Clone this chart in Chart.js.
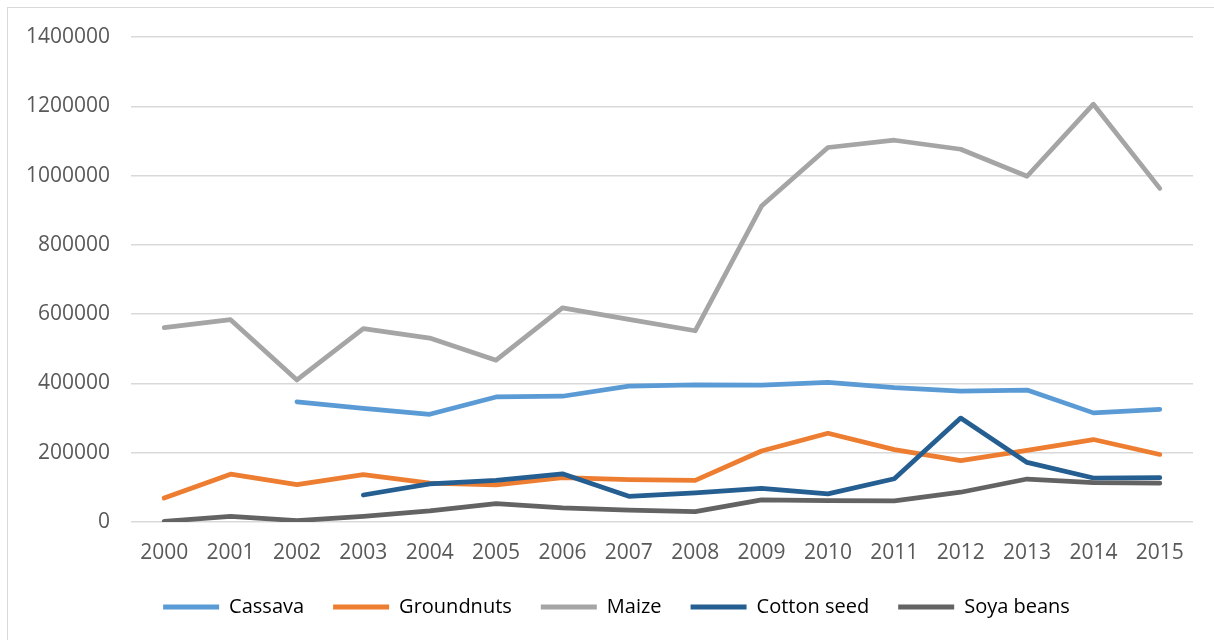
<!DOCTYPE html>
<html>
<head>
<meta charset="utf-8">
<title>Crop production 2000–2015</title>
<script src="https://cdn.jsdelivr.net/npm/chart.js@4.4.1/dist/chart.umd.min.js"></script>
<style>
  html, body { margin: 0; padding: 0; background: #ffffff; overflow: hidden; }
  #wrap { position: relative; width: 1214px; height: 640px; }
  #frame { position: absolute; left: 7px; top: 7px; width: 1230px; height: 660px;
           border-left: 1px solid #d9d9d9; border-top: 1px solid #d9d9d9; box-sizing: border-box; }
  #chart { position: absolute; left: 0; top: 0; }
</style>
</head>
<body>
<div id="wrap">
  <div id="frame"></div>
  <canvas id="chart" width="1214" height="640"></canvas>
</div>
<script>
// Production by crop and year (tonnes); null = no figure for that year
const years = ['2000','2001','2002','2003','2004','2005','2006','2007',
               '2008','2009','2010','2011','2012','2013','2014','2015'];
const cassava    = [null, null, 347000, 328000, 311000, 361000, 363000, 392000,
                    396000, 395000, 403000, 388000, 378000, 381000, 315000, 325000];
const groundnuts = [69000, 138000, 108000, 137000, 112000, 107000, 128000, 122000,
                    120000, 205000, 256000, 209000, 177000, 207000, 238000, 195000];
const maize      = [561000, 584000, 410000, 558000, 531000, 467000, 618000, 585000,
                    552000, 912000, 1081000, 1102000, 1076000, 998000, 1206000, 963000];
const cottonSeed = [null, null, null, 78000, 110000, 120000, 139000, 74000,
                    84000, 97000, 81000, 125000, 300000, 172000, 127000, 128000];
const soyaBeans  = [2000, 16000, 4000, 16000, 32000, 53000, 41000, 34000,
                    30000, 64000, 62000, 61000, 86000, 124000, 114000, 112000];
const seriesNames = ['Cassava', 'Groundnuts', 'Maize', 'Cotton seed', 'Soya beans'];
const yTicks = [0, 200000, 400000, 600000, 800000, 1000000, 1200000, 1400000];

const colours = ['#5b9bd5', '#ed7d31', '#a5a5a5', '#255e91', '#636363'];
const seriesData = [cassava, groundnuts, maize, cottonSeed, soyaBeans];
const FONT = "'Open Sans', 'Liberation Sans', sans-serif";
const TEXT = '#595959';

const datasets = seriesData.map((d, i) => ({
  label: seriesNames[i],
  data: d,
  borderColor: colours[i],
  backgroundColor: colours[i],
  borderWidth: 4.75,
  borderCapStyle: 'round',
  borderJoinStyle: 'round',
  pointRadius: 0,
  pointHoverRadius: 0,
  tension: 0,
  spanGaps: false,
  // later series are painted above earlier ones
  order: seriesNames.length - i
}));

// nudge the legend row so it sits centred under the whole framed chart
const legendShift = {
  id: 'legendShift',
  afterLayout(chart) {
    if (chart.legend) {
      chart.legend.left += 10;
      chart.legend.right += 10;
    }
  }
};

new Chart(document.getElementById('chart'), {
  type: 'line',
  data: { labels: years, datasets },
  plugins: [legendShift],
  options: {
    responsive: false,
    animation: false,
    layout: { padding: { left: 20, right: 21, top: 37, bottom: 13 } },
    plugins: {
      tooltip: { enabled: false },
      legend: {
        position: 'bottom',
        labels: {
          font: { family: FONT, size: 20 },
          color: TEXT,
          boxWidth: 56,
          boxHeight: 5,
          padding: 29,
          useBorderRadius: true,
          borderRadius: 2.5,
          generateLabels: (chart) => chart.data.datasets.map((ds, i) => ({
            text: ds.label,
            fillStyle: ds.borderColor,
            strokeStyle: ds.borderColor,
            lineWidth: 0,
            hidden: false,
            datasetIndex: i
          }))
        }
      }
    },
    scales: {
      x: {
        offset: true,
        grid: { display: false, drawTicks: false },
        border: { display: false },
        ticks: {
          font: { family: FONT, size: 21 },
          color: TEXT,
          padding: 18,
          maxRotation: 0,
          autoSkip: false
        },
        afterFit: (scale) => { scale.height = 46; }
      },
      y: {
        min: 0,
        max: 1400000,
        afterBuildTicks: (scale) => { scale.ticks = yTicks.map(v => ({ value: v })); },
        grid: { color: '#d9d9d9', lineWidth: 1.5, drawTicks: false },
        border: { display: false },
        ticks: {
          font: { family: FONT, size: 21 },
          color: TEXT,
          padding: 21,
          callback: (v) => String(v)
        },
        afterFit: (scale) => { scale.width = 111; }
      }
    }
  }
});
</script>
</body>
</html>
